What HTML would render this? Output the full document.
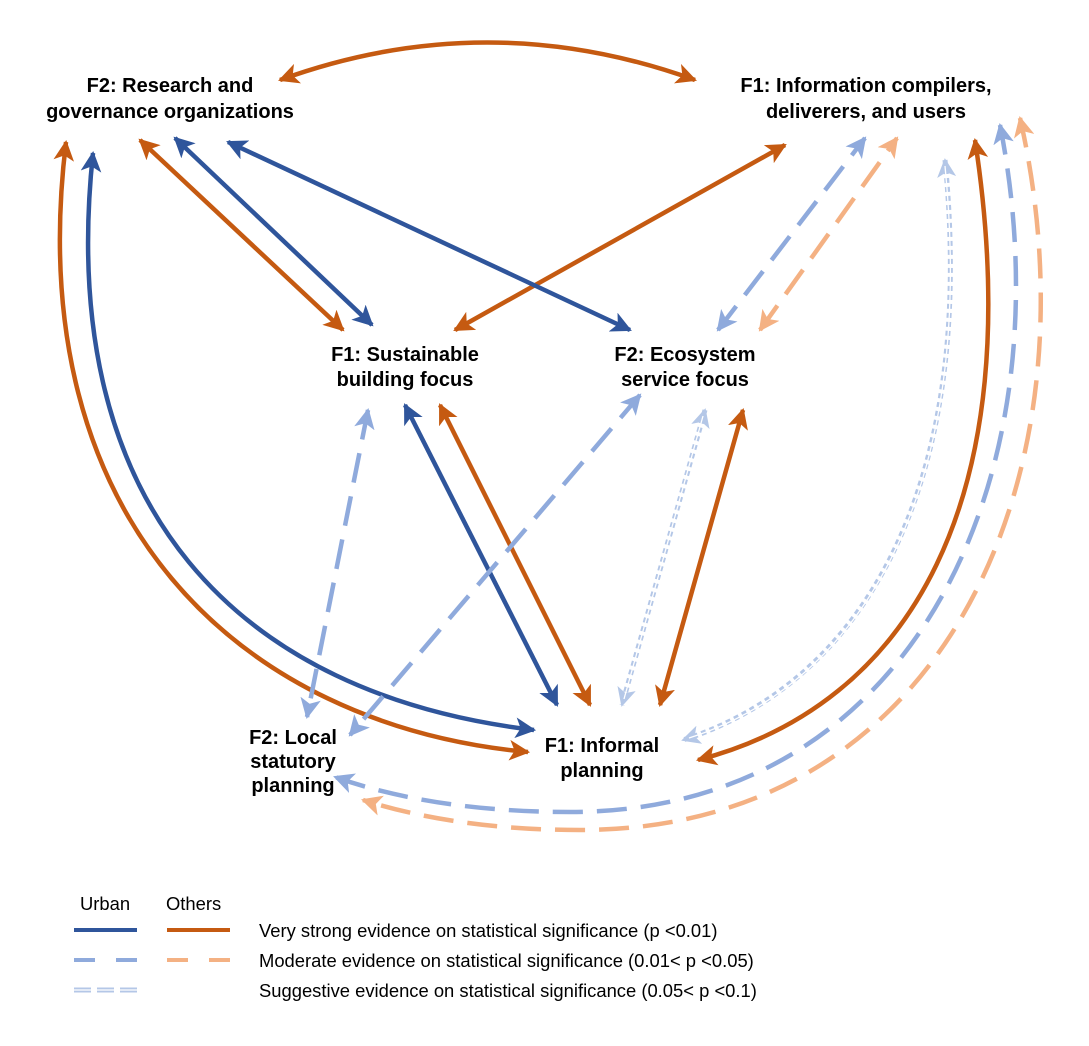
<!DOCTYPE html>
<html><head><meta charset="utf-8"><style>
html,body{margin:0;padding:0;background:#fff;}
svg{display:block;font-family:"Liberation Sans",Arial,sans-serif;}
.lb{font-weight:bold;font-size:20px;fill:#000;text-anchor:middle;}
.lg{font-size:18.4px;fill:#000;}
</style></head><body>
<svg width="1089" height="1046" viewBox="0 0 1089 1046" xmlns="http://www.w3.org/2000/svg">
<defs>
<marker id="mO" viewBox="0 0 10 10" refX="9" refY="5" markerWidth="4.6" markerHeight="4.6" orient="auto-start-reverse" markerUnits="strokeWidth"><path d="M0,0 L10,5 L0,10 L2.5,5 z" fill="#c55a11"/></marker>
<marker id="mB" viewBox="0 0 10 10" refX="9" refY="5" markerWidth="4.6" markerHeight="4.6" orient="auto-start-reverse" markerUnits="strokeWidth"><path d="M0,0 L10,5 L0,10 L2.5,5 z" fill="#2f559b"/></marker>
<marker id="mLB" viewBox="0 0 10 10" refX="9" refY="5" markerWidth="4.6" markerHeight="4.6" orient="auto-start-reverse" markerUnits="strokeWidth"><path d="M0,0 L10,5 L0,10 L2.5,5 z" fill="#8faadc"/></marker>
<marker id="mLO" viewBox="0 0 10 10" refX="9" refY="5" markerWidth="4.6" markerHeight="4.6" orient="auto-start-reverse" markerUnits="strokeWidth"><path d="M0,0 L10,5 L0,10 L2.5,5 z" fill="#f4b183"/></marker>
<marker id="mP" viewBox="0 0 10 10" refX="9" refY="5" markerWidth="3.8" markerHeight="3.8" orient="auto-start-reverse" markerUnits="strokeWidth"><path d="M0,0 L10,5 L0,10 L2.5,5 z" fill="#b4c7e7"/></marker>
</defs>
<g fill="none" stroke-width="4.5">
<g stroke="#c55a11" marker-start="url(#mO)" marker-end="url(#mO)">
<path d="M280,80 Q487,5 695,80"/>
<path d="M66,142 C20,520 240,725 528,752"/>
<path d="M140,140 L343,330"/>
<path d="M455,330 L785,145"/>
<path d="M975,140 C1030,500 910,705 698,760"/>
<path d="M440,405 L590,705"/>
<path d="M743,410 L660,705"/>
</g>
<g stroke="#2f559b" marker-start="url(#mB)" marker-end="url(#mB)">
<path d="M93,153 C55,510 240,695 534,730"/>
<path d="M175,138 L372,325"/>
<path d="M228,142 L630,330"/>
<path d="M405,405 L557,705"/>
</g>
<g stroke="#8faadc" stroke-dasharray="30 14" marker-start="url(#mLB)" marker-end="url(#mLB)">
<path d="M718,330 L865,138"/>
<path d="M1000,125 C1068,470 918,812 570,812 C480,812 400,800 335,777"/>
<path d="M368,410 L307,717"/>
<path d="M640,395 L350,735"/>
</g>
<g stroke="#f4b183" stroke-dasharray="30 14" marker-start="url(#mLO)" marker-end="url(#mLO)">
<path d="M760,330 L897,138"/>
<path d="M1020,118 C1100,470 948,830 580,830 C490,830 420,818 363,800"/>
</g>
<g stroke="#b4c7e7" stroke-width="5" stroke-dasharray="5 4" marker-start="url(#mP)" marker-end="url(#mP)">
<path d="M945,160 C978,500 855,685 683,740"/>
<path d="M705,410 L622,705"/>
</g>
<g stroke="#fff" stroke-width="1.3">
<path d="M945,166 C978,500 855,685 689,738"/>
<path d="M703,416 L624,699"/>
</g>
</g>
<text class="lb" x="170" y="92">F2: Research and</text>
<text class="lb" x="170" y="118">governance organizations</text>
<text class="lb" x="866" y="92">F1: Information compilers,</text>
<text class="lb" x="866" y="118">deliverers, and users</text>
<text class="lb" x="405" y="361">F1: Sustainable</text>
<text class="lb" x="405" y="386">building focus</text>
<text class="lb" x="685" y="361">F2: Ecosystem</text>
<text class="lb" x="685" y="386">service focus</text>
<text class="lb" x="293" y="744">F2: Local</text>
<text class="lb" x="293" y="768">statutory</text>
<text class="lb" x="293" y="792">planning</text>
<text class="lb" x="602" y="752">F1: Informal</text>
<text class="lb" x="602" y="777">planning</text>
<text class="lg" x="80" y="910">Urban</text>
<text class="lg" x="166" y="910">Others</text>
<g stroke-width="4">
<line x1="74" y1="930" x2="137" y2="930" stroke="#2f559b"/>
<line x1="167" y1="930" x2="230" y2="930" stroke="#c55a11"/>
<line x1="74" y1="960" x2="137" y2="960" stroke="#8faadc" stroke-dasharray="21 21"/>
<line x1="167" y1="960" x2="230" y2="960" stroke="#f4b183" stroke-dasharray="21 21"/>
<line x1="74" y1="990" x2="137" y2="990" stroke="#b4c7e7" stroke-width="5" stroke-dasharray="17 6"/>
<line x1="74" y1="990" x2="137" y2="990" stroke="#fff" stroke-width="1.3"/>
</g>
<text class="lg" x="259" y="937">Very strong evidence on statistical significance (p &lt;0.01)</text>
<text class="lg" x="259" y="967">Moderate evidence on statistical significance (0.01&lt; p &lt;0.05)</text>
<text class="lg" x="259" y="997">Suggestive evidence on statistical significance (0.05&lt; p &lt;0.1)</text>
</svg>
</body></html>
